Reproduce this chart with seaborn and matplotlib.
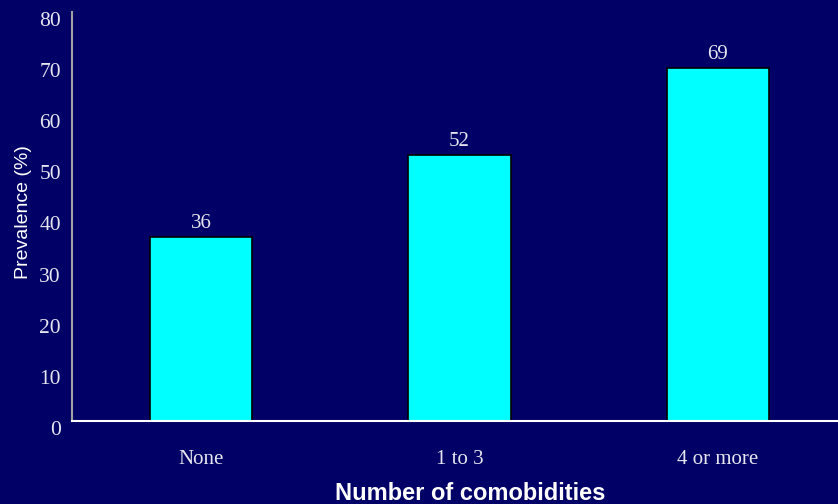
import matplotlib
matplotlib.use("Agg")
import matplotlib.pyplot as plt
import seaborn as sns
import pandas as pd

# data
categories = ["None", "1 to 3", "4 or more"]
prevalence = [36, 52, 69]
y_ticks = [0, 10, 20, 30, 40, 50, 60, 70, 80]

BG = "#000066"
BAR = "#00FFFF"
TXT = "#E6E6F0"
SERIF = ["Liberation Serif", "DejaVu Serif"]
SANS = ["Liberation Sans", "DejaVu Sans"]

sns.set_style("white")
plt.rcParams["font.family"] = SANS

df = pd.DataFrame({"group": categories, "value": prevalence})

fig = plt.figure(figsize=(8.38, 5.04), dpi=100, facecolor=BG)
# axes runs a little past the right edge of the figure, as in the reference
ax = fig.add_axes([72 / 838, 1 - 421 / 504, 775 / 838, (421 - 12) / 504])
ax.set_facecolor(BG)

sns.barplot(data=df, x="group", y="value", color=BAR, width=0.395,
            edgecolor="black", linewidth=1.2, saturation=1, ax=ax)

ax.bar_label(ax.containers[0], labels=[str(v) for v in prevalence],
             padding=3, color=TXT, fontsize=15, family=SERIF)

ax.set_xlim(-0.5, 2.5)
ax.set_ylim(0, 80)
ax.set_yticks(y_ticks)
ax.set_yticklabels([str(t) for t in y_ticks], family=SERIF, fontsize=15.5,
                   color=TXT, va="top")
ax.set_xticks(range(len(categories)))
ax.set_xticklabels(categories, family=SERIF, fontsize=15, color=TXT)
ax.tick_params(axis="x", which="major", length=0, pad=21)
ax.set_xticks([0.5, 1.5], minor=True)
ax.tick_params(axis="x", which="minor", direction="in", length=7, color="black", width=1)
ax.tick_params(axis="y", direction="in", length=7, color="black", width=1, pad=8)

for s in ["top", "right"]:
    ax.spines[s].set_visible(False)
ax.spines["left"].set_color("#A0A0A0")
ax.spines["left"].set_linewidth(1.5)
ax.spines["bottom"].set_color("white")
ax.spines["bottom"].set_linewidth(1.5)

ax.set_ylabel("Prevalence (%)", color="white", fontsize=14)
ax.set_xlabel("Number of comobidities", color="white", fontsize=17,
              fontweight="bold")
ax.xaxis.set_label_coords(0.514, -0.15)
ax.yaxis.set_label_coords(-0.052, 0.51)

fig.savefig("out.png", dpi=100, facecolor=BG)
